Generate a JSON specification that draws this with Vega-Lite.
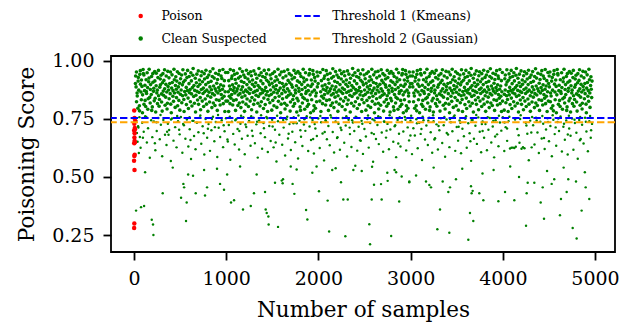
{
"$schema":"https://vega.github.io/schema/vega-lite/v6.json",
"width":504,"height":196,
"autosize":"none",
"padding":{"left":111,"top":56,"right":15,"bottom":72},
"background":"white",
"datasets":{
"poison":[{"x":2,"y":0.786},{"x":5,"y":0.753},{"x":3,"y":0.729},{"x":8,"y":0.71},{"x":1,"y":0.7},{"x":6,"y":0.688},{"x":4,"y":0.669},{"x":9,"y":0.649},{"x":2,"y":0.645},{"x":7,"y":0.595},{"x":3,"y":0.59},{"x":0,"y":0.569},{"x":5,"y":0.53},{"x":3,"y":0.3},{"x":1,"y":0.28},{"x":10,"y":0.705},{"x":6,"y":0.655},{"x":12,"y":0.74}],
"thresholds":[{"t":"Threshold 1 (Kmeans)","y":0.753},{"t":"Threshold 2 (Gaussian)","y":0.735}],
"sparse":[
{"x":25,"y":0.742},{"x":31,"y":0.689},{"x":38,"y":0.651},{"x":44,"y":0.718},{"x":52,"y":0.603},{"x":58,"y":0.757},{"x":63,"y":0.672},{"x":71,"y":0.625},{"x":88,"y":0.733},{"x":105,"y":0.694},{"x":121,"y":0.761},{"x":139,"y":0.648},{"x":152,"y":0.709},{"x":171,"y":0.582},{"x":186,"y":0.744},{"x":198,"y":0.671},{"x":215,"y":0.738},{"x":231,"y":0.615},{"x":246,"y":0.697},{"x":262,"y":0.753},{"x":279,"y":0.662},{"x":291,"y":0.724},{"x":305,"y":0.589},{"x":318,"y":0.745},{"x":336,"y":0.681},{"x":352,"y":0.637},{"x":367,"y":0.729},{"x":381,"y":0.702},{"x":399,"y":0.568},{"x":412,"y":0.751},{"x":428,"y":0.656},{"x":446,"y":0.714},{"x":461,"y":0.627},{"x":477,"y":0.739},{"x":495,"y":0.683},{"x":508,"y":0.758},{"x":524,"y":0.604},{"x":541,"y":0.722},{"x":557,"y":0.664},{"x":573,"y":0.747},{"x":589,"y":0.631},{"x":604,"y":0.705},{"x":618,"y":0.577},{"x":633,"y":0.741},{"x":651,"y":0.676},{"x":667,"y":0.619},{"x":682,"y":0.733},{"x":698,"y":0.692},{"x":713,"y":0.756},{"x":729,"y":0.643},{"x":744,"y":0.718},{"x":762,"y":0.596},{"x":776,"y":0.749},{"x":793,"y":0.668},{"x":808,"y":0.727},{"x":824,"y":0.612},{"x":839,"y":0.701},{"x":856,"y":0.759},{"x":871,"y":0.653},{"x":887,"y":0.736},{"x":903,"y":0.586},{"x":918,"y":0.711},{"x":934,"y":0.672},{"x":951,"y":0.744},{"x":966,"y":0.628},{"x":982,"y":0.696},{"x":997,"y":0.752},{"x":1013,"y":0.661},{"x":1028,"y":0.723},{"x":1044,"y":0.574},{"x":1061,"y":0.737},{"x":1076,"y":0.685},{"x":1092,"y":0.639},{"x":1107,"y":0.748},{"x":1123,"y":0.706},{"x":1139,"y":0.618},{"x":1154,"y":0.729},{"x":1170,"y":0.664},{"x":1186,"y":0.757},{"x":1201,"y":0.597},{"x":1217,"y":0.715},{"x":1232,"y":0.677},{"x":1248,"y":0.741},{"x":1264,"y":0.634},{"x":1279,"y":0.699},{"x":1295,"y":0.755},{"x":1311,"y":0.645},{"x":1326,"y":0.726},{"x":1342,"y":0.583},{"x":1357,"y":0.743},{"x":1373,"y":0.688},{"x":1389,"y":0.621},{"x":1404,"y":0.732},{"x":1420,"y":0.671},{"x":1436,"y":0.758},{"x":1451,"y":0.607},{"x":1467,"y":0.719},{"x":1482,"y":0.654},{"x":1498,"y":0.746},{"x":1514,"y":0.627},{"x":1529,"y":0.703},{"x":1545,"y":0.566},{"x":1561,"y":0.739},{"x":1576,"y":0.681},{"x":1592,"y":0.754},{"x":1607,"y":0.638},{"x":1623,"y":0.712},{"x":1639,"y":0.592},{"x":1654,"y":0.748},{"x":1670,"y":0.665},{"x":1686,"y":0.727},{"x":1701,"y":0.616},{"x":1717,"y":0.694},{"x":1732,"y":0.757},{"x":1748,"y":0.649},{"x":1764,"y":0.731},{"x":1779,"y":0.579},{"x":1795,"y":0.742},{"x":1811,"y":0.673},{"x":1826,"y":0.633},{"x":1842,"y":0.725},{"x":1858,"y":0.698},{"x":1873,"y":0.761},{"x":1889,"y":0.611},{"x":1904,"y":0.717},{"x":1920,"y":0.659},{"x":1936,"y":0.745},{"x":1951,"y":0.601},{"x":1967,"y":0.708},{"x":1983,"y":0.676},{"x":1998,"y":0.751},{"x":2014,"y":0.624},{"x":2030,"y":0.735},{"x":2045,"y":0.687},{"x":2061,"y":0.571},{"x":2077,"y":0.744},{"x":2092,"y":0.662},{"x":2108,"y":0.719},{"x":2123,"y":0.636},{"x":2139,"y":0.756},{"x":2155,"y":0.693},{"x":2170,"y":0.605},{"x":2186,"y":0.738},{"x":2202,"y":0.667},{"x":2217,"y":0.729},{"x":2233,"y":0.617},{"x":2249,"y":0.702},{"x":2264,"y":0.753},{"x":2280,"y":0.647},{"x":2296,"y":0.721},{"x":2311,"y":0.588},{"x":2327,"y":0.746},{"x":2342,"y":0.684},{"x":2358,"y":0.629},{"x":2374,"y":0.734},{"x":2389,"y":0.697},{"x":2405,"y":0.759},{"x":2421,"y":0.613},{"x":2436,"y":0.716},{"x":2452,"y":0.658},{"x":2468,"y":0.741},{"x":2483,"y":0.599},{"x":2499,"y":0.706},{"x":2515,"y":0.674},{"x":2530,"y":0.749},{"x":2546,"y":0.626},{"x":2561,"y":0.732},{"x":2577,"y":0.689},{"x":2593,"y":0.565},{"x":2608,"y":0.743},{"x":2624,"y":0.663},{"x":2640,"y":0.723},{"x":2655,"y":0.641},{"x":2671,"y":0.757},{"x":2687,"y":0.691},{"x":2702,"y":0.608},{"x":2718,"y":0.737},{"x":2733,"y":0.669},{"x":2749,"y":0.728},{"x":2765,"y":0.619},{"x":2780,"y":0.704},{"x":2796,"y":0.754},{"x":2812,"y":0.651},{"x":2827,"y":0.718},{"x":2843,"y":0.585},{"x":2859,"y":0.745},{"x":2874,"y":0.686},{"x":2890,"y":0.631},{"x":2905,"y":0.736},{"x":2921,"y":0.695},{"x":2937,"y":0.758},{"x":2952,"y":0.614},{"x":2968,"y":0.713},{"x":2983,"y":0.657},{"x":2999,"y":0.742},{"x":3015,"y":0.598},{"x":3030,"y":0.709},{"x":3046,"y":0.678},{"x":3062,"y":0.748},{"x":3077,"y":0.623},{"x":3093,"y":0.733},{"x":3109,"y":0.685},{"x":3124,"y":0.573},{"x":3140,"y":0.744},{"x":3156,"y":0.661},{"x":3171,"y":0.721},{"x":3187,"y":0.637},{"x":3202,"y":0.755},{"x":3218,"y":0.692},{"x":3234,"y":0.604},{"x":3249,"y":0.739},{"x":3265,"y":0.666},{"x":3281,"y":0.726},{"x":3296,"y":0.618},{"x":3312,"y":0.701},{"x":3328,"y":0.752},{"x":3343,"y":0.646},{"x":3359,"y":0.722},{"x":3374,"y":0.587},{"x":3390,"y":0.747},{"x":3406,"y":0.682},{"x":3421,"y":0.628},{"x":3437,"y":0.735},{"x":3453,"y":0.696},{"x":3468,"y":0.759},{"x":3484,"y":0.612},{"x":3500,"y":0.715},{"x":3515,"y":0.656},{"x":3531,"y":0.743},{"x":3547,"y":0.602},{"x":3562,"y":0.707},{"x":3578,"y":0.675},{"x":3593,"y":0.75},{"x":3609,"y":0.625},{"x":3625,"y":0.731},{"x":3640,"y":0.688},{"x":3656,"y":0.569},{"x":3672,"y":0.745},{"x":3687,"y":0.664},{"x":3703,"y":0.72},{"x":3719,"y":0.642},{"x":3734,"y":0.756},{"x":3750,"y":0.694},{"x":3765,"y":0.606},{"x":3781,"y":0.738},{"x":3797,"y":0.668},{"x":3812,"y":0.727},{"x":3828,"y":0.615},{"x":3844,"y":0.703},{"x":3859,"y":0.753},{"x":3875,"y":0.648},{"x":3891,"y":0.717},{"x":3906,"y":0.584},{"x":3922,"y":0.744},{"x":3938,"y":0.683},{"x":3953,"y":0.632},{"x":3969,"y":0.734},{"x":3984,"y":0.699},{"x":4000,"y":0.757},{"x":4016,"y":0.611},{"x":4031,"y":0.714},{"x":4047,"y":0.655},{"x":4063,"y":0.74},{"x":4078,"y":0.622},{"x":4094,"y":0.625},{"x":4110,"y":0.626},{"x":4125,"y":0.624},{"x":4141,"y":0.63},{"x":4157,"y":0.706},{"x":4172,"y":0.679},{"x":4188,"y":0.749},{"x":4203,"y":0.621},{"x":4219,"y":0.628},{"x":4235,"y":0.623},{"x":4250,"y":0.733},{"x":4266,"y":0.686},{"x":4282,"y":0.572},{"x":4297,"y":0.742},{"x":4313,"y":0.627},{"x":4329,"y":0.722},{"x":4344,"y":0.639},{"x":4360,"y":0.755},{"x":4376,"y":0.691},{"x":4391,"y":0.603},{"x":4407,"y":0.737},{"x":4422,"y":0.665},{"x":4438,"y":0.729},{"x":4454,"y":0.62},{"x":4469,"y":0.704},{"x":4485,"y":0.752},{"x":4501,"y":0.653},{"x":4516,"y":0.719},{"x":4532,"y":0.589},{"x":4548,"y":0.746},{"x":4563,"y":0.684},{"x":4579,"y":0.634},{"x":4594,"y":0.736},{"x":4610,"y":0.697},{"x":4626,"y":0.76},{"x":4641,"y":0.609},{"x":4657,"y":0.716},{"x":4673,"y":0.66},{"x":4688,"y":0.743},{"x":4704,"y":0.596},{"x":4720,"y":0.708},{"x":4735,"y":0.677},{"x":4751,"y":0.751},{"x":4766,"y":0.617},{"x":4782,"y":0.732},{"x":4798,"y":0.69},{"x":4813,"y":0.578},{"x":4829,"y":0.745},{"x":4845,"y":0.663},{"x":4860,"y":0.724},{"x":4876,"y":0.644},{"x":4892,"y":0.754},{"x":4907,"y":0.695},{"x":4923,"y":0.61},{"x":4938,"y":0.739},{"x":4954,"y":0.668},{"x":4968,"y":0.728},
{"x":47,"y":0.712},{"x":133,"y":0.758},{"x":244,"y":0.735},{"x":287,"y":0.766},{"x":359,"y":0.694},{"x":401,"y":0.747},{"x":468,"y":0.762},{"x":533,"y":0.728},{"x":602,"y":0.757},{"x":645,"y":0.741},{"x":719,"y":0.764},{"x":801,"y":0.707},{"x":845,"y":0.749},{"x":911,"y":0.766},{"x":972,"y":0.722},{"x":1039,"y":0.759},{"x":1098,"y":0.744},{"x":1161,"y":0.763},{"x":1209,"y":0.725},{"x":1271,"y":0.761},{"x":1335,"y":0.737},{"x":1378,"y":0.765},{"x":1445,"y":0.752},{"x":1503,"y":0.717},{"x":1552,"y":0.763},{"x":1618,"y":0.745},{"x":1661,"y":0.759},{"x":1729,"y":0.731},{"x":1783,"y":0.764},{"x":1848,"y":0.748},{"x":1911,"y":0.756},{"x":1959,"y":0.727},{"x":2021,"y":0.762},{"x":2083,"y":0.739},{"x":2131,"y":0.765},{"x":2194,"y":0.753},{"x":2241,"y":0.711},{"x":2303,"y":0.761},{"x":2366,"y":0.744},{"x":2412,"y":0.757},{"x":2476,"y":0.729},{"x":2538,"y":0.764},{"x":2587,"y":0.748},{"x":2649,"y":0.761},{"x":2711,"y":0.738},{"x":2772,"y":0.765},{"x":2833,"y":0.722},{"x":2881,"y":0.757},{"x":2944,"y":0.746},{"x":3006,"y":0.763},{"x":3069,"y":0.731},{"x":3131,"y":0.759},{"x":3192,"y":0.742},{"x":3244,"y":0.765},{"x":3303,"y":0.719},{"x":3366,"y":0.758},{"x":3428,"y":0.749},{"x":3477,"y":0.764},{"x":3539,"y":0.733},{"x":3601,"y":0.761},{"x":3662,"y":0.745},{"x":3712,"y":0.766},{"x":3773,"y":0.727},{"x":3836,"y":0.757},{"x":3897,"y":0.741},{"x":3958,"y":0.763},{"x":4019,"y":0.734},{"x":4071,"y":0.759},{"x":4133,"y":0.747},{"x":4194,"y":0.765},{"x":4256,"y":0.721},{"x":4318,"y":0.758},{"x":4367,"y":0.743},{"x":4429,"y":0.762},{"x":4491,"y":0.736},{"x":4541,"y":0.765},{"x":4602,"y":0.751},{"x":4664,"y":0.729},{"x":4717,"y":0.763},{"x":4778,"y":0.746},{"x":4839,"y":0.758},{"x":4901,"y":0.737},{"x":4947,"y":0.762},
{"x":96,"y":0.668},{"x":226,"y":0.645},{"x":374,"y":0.681},{"x":489,"y":0.703},{"x":612,"y":0.659},{"x":756,"y":0.688},{"x":877,"y":0.714},{"x":1017,"y":0.652},{"x":1142,"y":0.697},{"x":1287,"y":0.676},{"x":1409,"y":0.709},{"x":1536,"y":0.648},{"x":1677,"y":0.686},{"x":1804,"y":0.701},{"x":1943,"y":0.663},{"x":2068,"y":0.693},{"x":2207,"y":0.671},{"x":2339,"y":0.712},{"x":2459,"y":0.655},{"x":2602,"y":0.684},{"x":2739,"y":0.699},{"x":2866,"y":0.644},{"x":2998,"y":0.678},{"x":3117,"y":0.706},{"x":3258,"y":0.661},{"x":3392,"y":0.689},{"x":3521,"y":0.716},{"x":3648,"y":0.653},{"x":3781,"y":0.697},{"x":3917,"y":0.674},{"x":4046,"y":0.708},{"x":4181,"y":0.647},{"x":4309,"y":0.691},{"x":4447,"y":0.667},{"x":4573,"y":0.713},{"x":4705,"y":0.682},{"x":4836,"y":0.658},{"x":4958,"y":0.701},
{"x":22,"y":0.355},{"x":76,"y":0.37},{"x":109,"y":0.375},{"x":192,"y":0.316},{"x":206,"y":0.295},{"x":210,"y":0.25},{"x":311,"y":0.43},{"x":510,"y":0.41},{"x":535,"y":0.47},{"x":543,"y":0.455},{"x":564,"y":0.31},{"x":571,"y":0.39},{"x":587,"y":0.51},{"x":669,"y":0.43},{"x":770,"y":0.42},{"x":792,"y":0.455},{"x":933,"y":0.47},{"x":976,"y":0.445},{"x":1052,"y":0.39},{"x":1085,"y":0.4},{"x":1182,"y":0.36},{"x":1266,"y":0.375},{"x":1301,"y":0.43},{"x":1428,"y":0.36},{"x":1439,"y":0.345},{"x":1457,"y":0.33},{"x":1460,"y":0.295},{"x":1562,"y":0.285},{"x":1421,"y":0.435},{"x":1529,"y":0.475},{"x":1720,"y":0.47},{"x":1616,"y":0.49},{"x":1602,"y":0.484},{"x":1612,"y":0.473},{"x":1739,"y":0.427},{"x":1764,"y":0.532},{"x":1866,"y":0.358},{"x":1880,"y":0.317},{"x":1934,"y":0.518},{"x":2006,"y":0.438},{"x":2100,"y":0.398},{"x":2116,"y":0.265},{"x":2245,"y":0.477},{"x":2270,"y":0.403},{"x":2318,"y":0.403},{"x":2292,"y":0.245},{"x":2552,"y":0.296},{"x":2560,"y":0.21},{"x":2578,"y":0.403},{"x":2603,"y":0.466},{"x":2679,"y":0.469},{"x":2686,"y":0.403},{"x":2751,"y":0.483},{"x":2789,"y":0.246},{"x":2876,"y":0.394},{"x":2985,"y":0.477},{"x":2903,"y":0.502},{"x":3059,"y":0.506},{"x":2379,"y":0.53},{"x":2470,"y":0.525},{"x":2187,"y":0.537},{"x":2582,"y":0.544},{"x":2747,"y":0.518},{"x":2843,"y":0.52},{"x":2826,"y":0.53},{"x":2986,"y":0.48},{"x":3167,"y":0.48},{"x":3203,"y":0.465},{"x":3221,"y":0.455},{"x":3319,"y":0.36},{"x":3290,"y":0.275},{"x":3420,"y":0.26},{"x":3348,"y":0.48},{"x":3427,"y":0.455},{"x":3409,"y":0.435},{"x":3492,"y":0.49},{"x":3626,"y":0.23},{"x":3644,"y":0.345},{"x":3680,"y":0.31},{"x":3655,"y":0.46},{"x":3673,"y":0.44},{"x":3662,"y":0.43},{"x":3745,"y":0.43},{"x":3789,"y":0.4},{"x":3952,"y":0.395},{"x":4024,"y":0.435},{"x":4125,"y":0.4},{"x":4176,"y":0.5},{"x":4252,"y":0.29},{"x":4259,"y":0.43},{"x":4270,"y":0.475},{"x":4342,"y":0.475},{"x":4411,"y":0.39},{"x":4447,"y":0.32},{"x":4433,"y":0.455},{"x":4558,"y":0.49},{"x":4530,"y":0.47},{"x":4631,"y":0.405},{"x":4620,"y":0.335},{"x":4710,"y":0.49},{"x":4693,"y":0.435},{"x":4758,"y":0.28},{"x":4801,"y":0.235},{"x":4855,"y":0.355},{"x":4899,"y":0.455},{"x":4938,"y":0.405},{"x":4794,"y":0.48},
{"x":120,"y":0.52},{"x":420,"y":0.54},{"x":760,"y":0.53},{"x":1150,"y":0.545},{"x":1330,"y":0.51},{"x":1980,"y":0.545},{"x":2150,"y":0.53},{"x":3250,"y":0.54},{"x":3560,"y":0.535},{"x":3900,"y":0.53},{"x":4080,"y":0.545},{"x":4480,"y":0.525},{"x":4660,"y":0.54},{"x":4890,"y":0.52},{"x":1700,"y":0.545},{"x":640,"y":0.505},{"x":900,"y":0.535},{"x":3780,"y":0.515},{"x":2400,"y":0.548},{"x":1010,"y":0.51}
],
"band":[
{"x":15,"y":0.902},{"x":17,"y":0.934},{"x":22,"y":0.887},{"x":26,"y":0.951},{"x":27,"y":0.823},{"x":33,"y":0.861},{"x":35,"y":0.848},{"x":41,"y":0.795},{"x":44,"y":0.912},{"x":46,"y":0.928},
{"x":51,"y":0.873},{"x":58,"y":0.806},{"x":59,"y":0.784},{"x":63,"y":0.941},{"x":68,"y":0.957},{"x":70,"y":0.899},{"x":75,"y":0.865},{"x":79,"y":0.832},{"x":80,"y":0.917},{"x":86,"y":0.889},
{"x":91,"y":0.776},{"x":93,"y":0.853},{"x":98,"y":0.962},{"x":101,"y":0.945},{"x":107,"y":0.938},{"x":108,"y":0.812},{"x":114,"y":0.871},{"x":118,"y":0.894},{"x":120,"y":0.829},{"x":126,"y":0.803},
{"x":131,"y":0.918},{"x":133,"y":0.867},{"x":136,"y":0.859},{"x":142,"y":0.948},{"x":147,"y":0.884},{"x":149,"y":0.791},{"x":153,"y":0.836},{"x":159,"y":0.909},{"x":162,"y":0.925},{"x":164,"y":0.963},
{"x":170,"y":0.842},{"x":175,"y":0.818},{"x":177,"y":0.876},{"x":180,"y":0.897},{"x":187,"y":0.854},{"x":190,"y":0.932},{"x":192,"y":0.786},{"x":198,"y":0.801},{"x":203,"y":0.944},{"x":205,"y":0.907},
{"x":211,"y":0.868},{"x":214,"y":0.881},{"x":219,"y":0.827},{"x":224,"y":0.953},{"x":226,"y":0.913},{"x":229,"y":0.838},{"x":235,"y":0.779},{"x":240,"y":0.892},{"x":241,"y":0.946},{"x":247,"y":0.861},
{"x":252,"y":0.873},{"x":254,"y":0.815},{"x":259,"y":0.927},{"x":265,"y":0.958},{"x":266,"y":0.849},{"x":272,"y":0.804},{"x":275,"y":0.833},{"x":279,"y":0.886},{"x":284,"y":0.921},{"x":286,"y":0.896},
{"x":293,"y":0.937},{"x":298,"y":0.857},{"x":299,"y":0.822},{"x":305,"y":0.783},{"x":308,"y":0.905},{"x":313,"y":0.944},{"x":317,"y":0.869},{"x":320,"y":0.851},{"x":324,"y":0.915},{"x":331,"y":0.961},
{"x":332,"y":0.879},{"x":337,"y":0.808},{"x":343,"y":0.843},{"x":345,"y":0.898},{"x":349,"y":0.934},{"x":355,"y":0.865},{"x":358,"y":0.792},{"x":362,"y":0.817},{"x":366,"y":0.954},{"x":369,"y":0.889},
{"x":375,"y":0.874},{"x":379,"y":0.926},{"x":381,"y":0.836},{"x":387,"y":0.902},{"x":392,"y":0.858},{"x":395,"y":0.951},{"x":398,"y":0.813},{"x":404,"y":0.776},{"x":408,"y":0.882},{"x":412,"y":0.939},
{"x":415,"y":0.906},{"x":421,"y":0.847},{"x":423,"y":0.871},{"x":428,"y":0.825},{"x":433,"y":0.963},{"x":437,"y":0.918},{"x":439,"y":0.861},{"x":446,"y":0.799},{"x":449,"y":0.893},{"x":453,"y":0.931},
{"x":458,"y":0.877},{"x":460,"y":0.841},{"x":464,"y":0.912},{"x":470,"y":0.952},{"x":473,"y":0.806},{"x":477,"y":0.864},{"x":481,"y":0.887},{"x":486,"y":0.829},{"x":489,"y":0.945},{"x":494,"y":0.903},
{"x":497,"y":0.787},{"x":503,"y":0.855},{"x":505,"y":0.922},{"x":511,"y":0.874},{"x":516,"y":0.938},{"x":518,"y":0.819},{"x":524,"y":0.896},{"x":527,"y":0.849},{"x":530,"y":0.961},{"x":536,"y":0.908},
{"x":540,"y":0.833},{"x":543,"y":0.781},{"x":549,"y":0.867},{"x":553,"y":0.916},{"x":556,"y":0.943},{"x":561,"y":0.853},{"x":566,"y":0.885},{"x":568,"y":0.811},{"x":574,"y":0.927},{"x":579,"y":0.871},
{"x":581,"y":0.958},{"x":586,"y":0.839},{"x":590,"y":0.794},{"x":596,"y":0.901},{"x":598,"y":0.932},{"x":603,"y":0.862},{"x":608,"y":0.876},{"x":611,"y":0.823},{"x":616,"y":0.948},{"x":622,"y":0.913},
{"x":624,"y":0.857},{"x":628,"y":0.805},{"x":633,"y":0.884},{"x":638,"y":0.937},{"x":641,"y":0.966},{"x":647,"y":0.846},{"x":650,"y":0.893},{"x":655,"y":0.817},{"x":658,"y":0.872},{"x":664,"y":0.924},
{"x":667,"y":0.779},{"x":671,"y":0.851},{"x":676,"y":0.905},{"x":681,"y":0.942},{"x":683,"y":0.868},{"x":689,"y":0.831},{"x":693,"y":0.889},{"x":697,"y":0.956},{"x":700,"y":0.812},{"x":706,"y":0.863},
{"x":709,"y":0.917},{"x":714,"y":0.898},{"x":718,"y":0.841},{"x":722,"y":0.789},{"x":727,"y":0.935},{"x":730,"y":0.876},{"x":735,"y":0.952},{"x":740,"y":0.826},{"x":742,"y":0.909},{"x":748,"y":0.859},
{"x":752,"y":0.882},{"x":755,"y":0.803},{"x":761,"y":0.944},{"x":765,"y":0.921},{"x":767,"y":0.866},{"x":772,"y":0.835},{"x":778,"y":0.897},{"x":780,"y":0.959},{"x":786,"y":0.813},{"x":789,"y":0.873},
{"x":794,"y":0.928},{"x":799,"y":0.849},{"x":801,"y":0.782},{"x":806,"y":0.906},{"x":811,"y":0.938},{"x":814,"y":0.864},{"x":819,"y":0.822},{"x":823,"y":0.887},{"x":826,"y":0.953},{"x":832,"y":0.843},
{"x":835,"y":0.911},{"x":839,"y":0.875},{"x":844,"y":0.798},{"x":849,"y":0.932},{"x":851,"y":0.858},{"x":856,"y":0.965},{"x":860,"y":0.818},{"x":863,"y":0.891},{"x":869,"y":0.925},{"x":872,"y":0.852},
{"x":878,"y":0.807},{"x":880,"y":0.879},{"x":885,"y":0.946},{"x":890,"y":0.869},{"x":893,"y":0.832},{"x":897,"y":0.903},{"x":903,"y":0.786},{"x":906,"y":0.919},{"x":910,"y":0.861},{"x":915,"y":0.941},
{"x":918,"y":0.884},{"x":923,"y":0.829},{"x":927,"y":0.957},{"x":931,"y":0.872},{"x":934,"y":0.809},{"x":940,"y":0.896},{"x":944,"y":0.934},{"x":946,"y":0.854},{"x":952,"y":0.923},{"x":956,"y":0.838},
{"x":959,"y":0.877},{"x":964,"y":0.962},{"x":968,"y":0.815},{"x":971,"y":0.891},{"x":977,"y":0.847},{"x":980,"y":0.914},{"x":985,"y":0.781},{"x":988,"y":0.866},{"x":993,"y":0.949},{"x":997,"y":0.826},
{"x":1015,"y":0.826},{"x":1017,"y":0.949},{"x":1022,"y":0.866},{"x":1026,"y":0.781},{"x":1027,"y":0.914},{"x":1033,"y":0.847},{"x":1035,"y":0.891},{"x":1041,"y":0.815},{"x":1044,"y":0.962},{"x":1046,"y":0.877},
{"x":1051,"y":0.838},{"x":1058,"y":0.923},{"x":1059,"y":0.854},{"x":1063,"y":0.934},{"x":1068,"y":0.896},{"x":1070,"y":0.809},{"x":1075,"y":0.872},{"x":1079,"y":0.957},{"x":1080,"y":0.829},{"x":1086,"y":0.884},
{"x":1091,"y":0.941},{"x":1093,"y":0.861},{"x":1098,"y":0.919},{"x":1101,"y":0.786},{"x":1107,"y":0.903},{"x":1108,"y":0.832},{"x":1114,"y":0.869},{"x":1118,"y":0.946},{"x":1120,"y":0.879},{"x":1126,"y":0.807},
{"x":1131,"y":0.852},{"x":1133,"y":0.925},{"x":1136,"y":0.891},{"x":1142,"y":0.818},{"x":1147,"y":0.965},{"x":1149,"y":0.858},{"x":1153,"y":0.932},{"x":1159,"y":0.798},{"x":1162,"y":0.875},{"x":1164,"y":0.911},
{"x":1170,"y":0.843},{"x":1175,"y":0.953},{"x":1177,"y":0.887},{"x":1180,"y":0.822},{"x":1187,"y":0.864},{"x":1190,"y":0.938},{"x":1192,"y":0.906},{"x":1198,"y":0.782},{"x":1203,"y":0.849},{"x":1205,"y":0.928},
{"x":1211,"y":0.873},{"x":1214,"y":0.813},{"x":1219,"y":0.959},{"x":1224,"y":0.897},{"x":1226,"y":0.835},{"x":1229,"y":0.866},{"x":1235,"y":0.921},{"x":1240,"y":0.944},{"x":1241,"y":0.803},{"x":1247,"y":0.882},
{"x":1252,"y":0.859},{"x":1254,"y":0.909},{"x":1259,"y":0.826},{"x":1265,"y":0.952},{"x":1266,"y":0.876},{"x":1272,"y":0.935},{"x":1275,"y":0.789},{"x":1279,"y":0.841},{"x":1284,"y":0.898},{"x":1286,"y":0.917},
{"x":1293,"y":0.863},{"x":1298,"y":0.812},{"x":1299,"y":0.956},{"x":1305,"y":0.889},{"x":1308,"y":0.831},{"x":1313,"y":0.868},{"x":1317,"y":0.942},{"x":1320,"y":0.905},{"x":1324,"y":0.851},{"x":1331,"y":0.779},
{"x":1332,"y":0.924},{"x":1337,"y":0.872},{"x":1343,"y":0.817},{"x":1345,"y":0.893},{"x":1349,"y":0.846},{"x":1355,"y":0.966},{"x":1358,"y":0.937},{"x":1362,"y":0.884},{"x":1366,"y":0.805},{"x":1369,"y":0.857},
{"x":1375,"y":0.913},{"x":1379,"y":0.948},{"x":1381,"y":0.823},{"x":1387,"y":0.876},{"x":1392,"y":0.862},{"x":1395,"y":0.932},{"x":1398,"y":0.901},{"x":1404,"y":0.794},{"x":1408,"y":0.839},{"x":1412,"y":0.958},
{"x":1415,"y":0.871},{"x":1421,"y":0.927},{"x":1423,"y":0.811},{"x":1428,"y":0.885},{"x":1433,"y":0.853},{"x":1437,"y":0.943},{"x":1439,"y":0.916},{"x":1446,"y":0.867},{"x":1449,"y":0.781},{"x":1453,"y":0.833},
{"x":1458,"y":0.908},{"x":1460,"y":0.961},{"x":1464,"y":0.849},{"x":1470,"y":0.896},{"x":1473,"y":0.819},{"x":1477,"y":0.938},{"x":1481,"y":0.874},{"x":1486,"y":0.922},{"x":1489,"y":0.855},{"x":1494,"y":0.787},
{"x":1497,"y":0.903},{"x":1503,"y":0.945},{"x":1505,"y":0.829},{"x":1511,"y":0.887},{"x":1516,"y":0.864},{"x":1518,"y":0.806},{"x":1524,"y":0.952},{"x":1527,"y":0.912},{"x":1530,"y":0.841},{"x":1536,"y":0.877},
{"x":1540,"y":0.931},{"x":1543,"y":0.893},{"x":1549,"y":0.799},{"x":1553,"y":0.861},{"x":1556,"y":0.918},{"x":1561,"y":0.963},{"x":1566,"y":0.825},{"x":1568,"y":0.871},{"x":1574,"y":0.847},{"x":1579,"y":0.906},
{"x":1581,"y":0.939},{"x":1586,"y":0.882},{"x":1590,"y":0.776},{"x":1596,"y":0.813},{"x":1598,"y":0.951},{"x":1603,"y":0.858},{"x":1608,"y":0.902},{"x":1611,"y":0.836},{"x":1616,"y":0.926},{"x":1622,"y":0.874},
{"x":1624,"y":0.889},{"x":1628,"y":0.954},{"x":1633,"y":0.817},{"x":1638,"y":0.792},{"x":1641,"y":0.865},{"x":1647,"y":0.934},{"x":1650,"y":0.898},{"x":1655,"y":0.843},{"x":1658,"y":0.808},{"x":1664,"y":0.879},
{"x":1667,"y":0.961},{"x":1671,"y":0.915},{"x":1676,"y":0.851},{"x":1681,"y":0.869},{"x":1683,"y":0.944},{"x":1689,"y":0.905},{"x":1693,"y":0.783},{"x":1697,"y":0.822},{"x":1700,"y":0.857},{"x":1706,"y":0.937},
{"x":1709,"y":0.896},{"x":1714,"y":0.921},{"x":1718,"y":0.886},{"x":1722,"y":0.833},{"x":1727,"y":0.804},{"x":1730,"y":0.849},{"x":1735,"y":0.958},{"x":1740,"y":0.927},{"x":1742,"y":0.815},{"x":1748,"y":0.873},
{"x":1752,"y":0.861},{"x":1755,"y":0.946},{"x":1761,"y":0.892},{"x":1765,"y":0.779},{"x":1767,"y":0.838},{"x":1772,"y":0.913},{"x":1778,"y":0.953},{"x":1780,"y":0.827},{"x":1786,"y":0.881},{"x":1789,"y":0.868},
{"x":1794,"y":0.907},{"x":1799,"y":0.944},{"x":1801,"y":0.801},{"x":1806,"y":0.786},{"x":1811,"y":0.932},{"x":1814,"y":0.854},{"x":1819,"y":0.897},{"x":1823,"y":0.876},{"x":1826,"y":0.818},{"x":1832,"y":0.842},
{"x":1835,"y":0.963},{"x":1839,"y":0.925},{"x":1844,"y":0.909},{"x":1849,"y":0.836},{"x":1851,"y":0.791},{"x":1856,"y":0.884},{"x":1860,"y":0.948},{"x":1863,"y":0.859},{"x":1869,"y":0.867},{"x":1872,"y":0.918},
{"x":1878,"y":0.803},{"x":1880,"y":0.829},{"x":1885,"y":0.894},{"x":1890,"y":0.871},{"x":1893,"y":0.812},{"x":1897,"y":0.938},{"x":1903,"y":0.945},{"x":1906,"y":0.962},{"x":1910,"y":0.853},{"x":1915,"y":0.776},
{"x":1918,"y":0.889},{"x":1923,"y":0.917},{"x":1927,"y":0.832},{"x":1931,"y":0.865},{"x":1934,"y":0.899},{"x":1940,"y":0.957},{"x":1944,"y":0.941},{"x":1946,"y":0.784},{"x":1952,"y":0.806},{"x":1956,"y":0.873},
{"x":1959,"y":0.928},{"x":1964,"y":0.912},{"x":1968,"y":0.795},{"x":1971,"y":0.848},{"x":1977,"y":0.861},{"x":1980,"y":0.823},{"x":1985,"y":0.951},{"x":1988,"y":0.887},{"x":1993,"y":0.934},{"x":1997,"y":0.902},
{"x":2997,"y":0.902},{"x":2995,"y":0.934},{"x":2990,"y":0.887},{"x":2986,"y":0.951},{"x":2985,"y":0.823},{"x":2979,"y":0.861},{"x":2977,"y":0.848},{"x":2971,"y":0.795},{"x":2968,"y":0.912},{"x":2966,"y":0.928},
{"x":2961,"y":0.873},{"x":2954,"y":0.806},{"x":2953,"y":0.784},{"x":2949,"y":0.941},{"x":2944,"y":0.957},{"x":2942,"y":0.899},{"x":2937,"y":0.865},{"x":2933,"y":0.832},{"x":2932,"y":0.917},{"x":2926,"y":0.889},
{"x":2921,"y":0.776},{"x":2919,"y":0.853},{"x":2914,"y":0.962},{"x":2911,"y":0.945},{"x":2905,"y":0.938},{"x":2904,"y":0.812},{"x":2898,"y":0.871},{"x":2894,"y":0.894},{"x":2892,"y":0.829},{"x":2886,"y":0.803},
{"x":2881,"y":0.918},{"x":2879,"y":0.867},{"x":2876,"y":0.859},{"x":2870,"y":0.948},{"x":2865,"y":0.884},{"x":2863,"y":0.791},{"x":2859,"y":0.836},{"x":2853,"y":0.909},{"x":2850,"y":0.925},{"x":2848,"y":0.963},
{"x":2842,"y":0.842},{"x":2837,"y":0.818},{"x":2835,"y":0.876},{"x":2832,"y":0.897},{"x":2825,"y":0.854},{"x":2822,"y":0.932},{"x":2820,"y":0.786},{"x":2814,"y":0.801},{"x":2809,"y":0.944},{"x":2807,"y":0.907},
{"x":2801,"y":0.868},{"x":2798,"y":0.881},{"x":2793,"y":0.827},{"x":2788,"y":0.953},{"x":2786,"y":0.913},{"x":2783,"y":0.838},{"x":2777,"y":0.779},{"x":2772,"y":0.892},{"x":2771,"y":0.946},{"x":2765,"y":0.861},
{"x":2760,"y":0.873},{"x":2758,"y":0.815},{"x":2753,"y":0.927},{"x":2747,"y":0.958},{"x":2746,"y":0.849},{"x":2740,"y":0.804},{"x":2737,"y":0.833},{"x":2733,"y":0.886},{"x":2728,"y":0.921},{"x":2726,"y":0.896},
{"x":2719,"y":0.937},{"x":2714,"y":0.857},{"x":2713,"y":0.822},{"x":2707,"y":0.783},{"x":2704,"y":0.905},{"x":2699,"y":0.944},{"x":2695,"y":0.869},{"x":2692,"y":0.851},{"x":2688,"y":0.915},{"x":2681,"y":0.961},
{"x":2680,"y":0.879},{"x":2675,"y":0.808},{"x":2669,"y":0.843},{"x":2667,"y":0.898},{"x":2663,"y":0.934},{"x":2657,"y":0.865},{"x":2654,"y":0.792},{"x":2650,"y":0.817},{"x":2646,"y":0.954},{"x":2643,"y":0.889},
{"x":2637,"y":0.874},{"x":2633,"y":0.926},{"x":2631,"y":0.836},{"x":2625,"y":0.902},{"x":2620,"y":0.858},{"x":2617,"y":0.951},{"x":2614,"y":0.813},{"x":2608,"y":0.776},{"x":2604,"y":0.882},{"x":2600,"y":0.939},
{"x":2597,"y":0.906},{"x":2591,"y":0.847},{"x":2589,"y":0.871},{"x":2584,"y":0.825},{"x":2579,"y":0.963},{"x":2575,"y":0.918},{"x":2573,"y":0.861},{"x":2566,"y":0.799},{"x":2563,"y":0.893},{"x":2559,"y":0.931},
{"x":2554,"y":0.877},{"x":2552,"y":0.841},{"x":2548,"y":0.912},{"x":2542,"y":0.952},{"x":2539,"y":0.806},{"x":2535,"y":0.864},{"x":2531,"y":0.887},{"x":2526,"y":0.829},{"x":2523,"y":0.945},{"x":2518,"y":0.903},
{"x":2515,"y":0.787},{"x":2509,"y":0.855},{"x":2507,"y":0.922},{"x":2501,"y":0.874},{"x":2496,"y":0.938},{"x":2494,"y":0.819},{"x":2488,"y":0.896},{"x":2485,"y":0.849},{"x":2482,"y":0.961},{"x":2476,"y":0.908},
{"x":2472,"y":0.833},{"x":2469,"y":0.781},{"x":2463,"y":0.867},{"x":2459,"y":0.916},{"x":2456,"y":0.943},{"x":2451,"y":0.853},{"x":2446,"y":0.885},{"x":2444,"y":0.811},{"x":2438,"y":0.927},{"x":2433,"y":0.871},
{"x":2431,"y":0.958},{"x":2426,"y":0.839},{"x":2422,"y":0.794},{"x":2416,"y":0.901},{"x":2414,"y":0.932},{"x":2409,"y":0.862},{"x":2404,"y":0.876},{"x":2401,"y":0.823},{"x":2396,"y":0.948},{"x":2390,"y":0.913},
{"x":2388,"y":0.857},{"x":2384,"y":0.805},{"x":2379,"y":0.884},{"x":2374,"y":0.937},{"x":2371,"y":0.966},{"x":2365,"y":0.846},{"x":2362,"y":0.893},{"x":2357,"y":0.817},{"x":2354,"y":0.872},{"x":2348,"y":0.924},
{"x":2345,"y":0.779},{"x":2341,"y":0.851},{"x":2336,"y":0.905},{"x":2331,"y":0.942},{"x":2329,"y":0.868},{"x":2323,"y":0.831},{"x":2319,"y":0.889},{"x":2315,"y":0.956},{"x":2312,"y":0.812},{"x":2306,"y":0.863},
{"x":2303,"y":0.917},{"x":2298,"y":0.898},{"x":2294,"y":0.841},{"x":2290,"y":0.789},{"x":2285,"y":0.935},{"x":2282,"y":0.876},{"x":2277,"y":0.952},{"x":2272,"y":0.826},{"x":2270,"y":0.909},{"x":2264,"y":0.859},
{"x":2260,"y":0.882},{"x":2257,"y":0.803},{"x":2251,"y":0.944},{"x":2247,"y":0.921},{"x":2245,"y":0.866},{"x":2240,"y":0.835},{"x":2234,"y":0.897},{"x":2232,"y":0.959},{"x":2226,"y":0.813},{"x":2223,"y":0.873},
{"x":2218,"y":0.928},{"x":2213,"y":0.849},{"x":2211,"y":0.782},{"x":2206,"y":0.906},{"x":2201,"y":0.938},{"x":2198,"y":0.864},{"x":2193,"y":0.822},{"x":2189,"y":0.887},{"x":2186,"y":0.953},{"x":2180,"y":0.843},
{"x":2177,"y":0.911},{"x":2173,"y":0.875},{"x":2168,"y":0.798},{"x":2163,"y":0.932},{"x":2161,"y":0.858},{"x":2156,"y":0.965},{"x":2152,"y":0.818},{"x":2149,"y":0.891},{"x":2143,"y":0.925},{"x":2140,"y":0.852},
{"x":2134,"y":0.807},{"x":2132,"y":0.879},{"x":2127,"y":0.946},{"x":2122,"y":0.869},{"x":2119,"y":0.832},{"x":2115,"y":0.903},{"x":2109,"y":0.786},{"x":2106,"y":0.919},{"x":2102,"y":0.861},{"x":2097,"y":0.941},
{"x":2094,"y":0.884},{"x":2089,"y":0.829},{"x":2085,"y":0.957},{"x":2081,"y":0.872},{"x":2078,"y":0.809},{"x":2072,"y":0.896},{"x":2068,"y":0.934},{"x":2066,"y":0.854},{"x":2060,"y":0.923},{"x":2056,"y":0.838},
{"x":2053,"y":0.877},{"x":2048,"y":0.962},{"x":2044,"y":0.815},{"x":2041,"y":0.891},{"x":2035,"y":0.847},{"x":2032,"y":0.914},{"x":2027,"y":0.781},{"x":2024,"y":0.866},{"x":2019,"y":0.949},{"x":2015,"y":0.826},
{"x":3997,"y":0.826},{"x":3995,"y":0.949},{"x":3990,"y":0.866},{"x":3986,"y":0.781},{"x":3985,"y":0.914},{"x":3979,"y":0.847},{"x":3977,"y":0.891},{"x":3971,"y":0.815},{"x":3968,"y":0.962},{"x":3966,"y":0.877},
{"x":3961,"y":0.838},{"x":3954,"y":0.923},{"x":3953,"y":0.854},{"x":3949,"y":0.934},{"x":3944,"y":0.896},{"x":3942,"y":0.809},{"x":3937,"y":0.872},{"x":3933,"y":0.957},{"x":3932,"y":0.829},{"x":3926,"y":0.884},
{"x":3921,"y":0.941},{"x":3919,"y":0.861},{"x":3914,"y":0.919},{"x":3911,"y":0.786},{"x":3905,"y":0.903},{"x":3904,"y":0.832},{"x":3898,"y":0.869},{"x":3894,"y":0.946},{"x":3892,"y":0.879},{"x":3886,"y":0.807},
{"x":3881,"y":0.852},{"x":3879,"y":0.925},{"x":3876,"y":0.891},{"x":3870,"y":0.818},{"x":3865,"y":0.965},{"x":3863,"y":0.858},{"x":3859,"y":0.932},{"x":3853,"y":0.798},{"x":3850,"y":0.875},{"x":3848,"y":0.911},
{"x":3842,"y":0.843},{"x":3837,"y":0.953},{"x":3835,"y":0.887},{"x":3832,"y":0.822},{"x":3825,"y":0.864},{"x":3822,"y":0.938},{"x":3820,"y":0.906},{"x":3814,"y":0.782},{"x":3809,"y":0.849},{"x":3807,"y":0.928},
{"x":3801,"y":0.873},{"x":3798,"y":0.813},{"x":3793,"y":0.959},{"x":3788,"y":0.897},{"x":3786,"y":0.835},{"x":3783,"y":0.866},{"x":3777,"y":0.921},{"x":3772,"y":0.944},{"x":3771,"y":0.803},{"x":3765,"y":0.882},
{"x":3760,"y":0.859},{"x":3758,"y":0.909},{"x":3753,"y":0.826},{"x":3747,"y":0.952},{"x":3746,"y":0.876},{"x":3740,"y":0.935},{"x":3737,"y":0.789},{"x":3733,"y":0.841},{"x":3728,"y":0.898},{"x":3726,"y":0.917},
{"x":3719,"y":0.863},{"x":3714,"y":0.812},{"x":3713,"y":0.956},{"x":3707,"y":0.889},{"x":3704,"y":0.831},{"x":3699,"y":0.868},{"x":3695,"y":0.942},{"x":3692,"y":0.905},{"x":3688,"y":0.851},{"x":3681,"y":0.779},
{"x":3680,"y":0.924},{"x":3675,"y":0.872},{"x":3669,"y":0.817},{"x":3667,"y":0.893},{"x":3663,"y":0.846},{"x":3657,"y":0.966},{"x":3654,"y":0.937},{"x":3650,"y":0.884},{"x":3646,"y":0.805},{"x":3643,"y":0.857},
{"x":3637,"y":0.913},{"x":3633,"y":0.948},{"x":3631,"y":0.823},{"x":3625,"y":0.876},{"x":3620,"y":0.862},{"x":3617,"y":0.932},{"x":3614,"y":0.901},{"x":3608,"y":0.794},{"x":3604,"y":0.839},{"x":3600,"y":0.958},
{"x":3597,"y":0.871},{"x":3591,"y":0.927},{"x":3589,"y":0.811},{"x":3584,"y":0.885},{"x":3579,"y":0.853},{"x":3575,"y":0.943},{"x":3573,"y":0.916},{"x":3566,"y":0.867},{"x":3563,"y":0.781},{"x":3559,"y":0.833},
{"x":3554,"y":0.908},{"x":3552,"y":0.961},{"x":3548,"y":0.849},{"x":3542,"y":0.896},{"x":3539,"y":0.819},{"x":3535,"y":0.938},{"x":3531,"y":0.874},{"x":3526,"y":0.922},{"x":3523,"y":0.855},{"x":3518,"y":0.787},
{"x":3515,"y":0.903},{"x":3509,"y":0.945},{"x":3507,"y":0.829},{"x":3501,"y":0.887},{"x":3496,"y":0.864},{"x":3494,"y":0.806},{"x":3488,"y":0.952},{"x":3485,"y":0.912},{"x":3482,"y":0.841},{"x":3476,"y":0.877},
{"x":3472,"y":0.931},{"x":3469,"y":0.893},{"x":3463,"y":0.799},{"x":3459,"y":0.861},{"x":3456,"y":0.918},{"x":3451,"y":0.963},{"x":3446,"y":0.825},{"x":3444,"y":0.871},{"x":3438,"y":0.847},{"x":3433,"y":0.906},
{"x":3431,"y":0.939},{"x":3426,"y":0.882},{"x":3422,"y":0.776},{"x":3416,"y":0.813},{"x":3414,"y":0.951},{"x":3409,"y":0.858},{"x":3404,"y":0.902},{"x":3401,"y":0.836},{"x":3396,"y":0.926},{"x":3390,"y":0.874},
{"x":3388,"y":0.889},{"x":3384,"y":0.954},{"x":3379,"y":0.817},{"x":3374,"y":0.792},{"x":3371,"y":0.865},{"x":3365,"y":0.934},{"x":3362,"y":0.898},{"x":3357,"y":0.843},{"x":3354,"y":0.808},{"x":3348,"y":0.879},
{"x":3345,"y":0.961},{"x":3341,"y":0.915},{"x":3336,"y":0.851},{"x":3331,"y":0.869},{"x":3329,"y":0.944},{"x":3323,"y":0.905},{"x":3319,"y":0.783},{"x":3315,"y":0.822},{"x":3312,"y":0.857},{"x":3306,"y":0.937},
{"x":3303,"y":0.896},{"x":3298,"y":0.921},{"x":3294,"y":0.886},{"x":3290,"y":0.833},{"x":3285,"y":0.804},{"x":3282,"y":0.849},{"x":3277,"y":0.958},{"x":3272,"y":0.927},{"x":3270,"y":0.815},{"x":3264,"y":0.873},
{"x":3260,"y":0.861},{"x":3257,"y":0.946},{"x":3251,"y":0.892},{"x":3247,"y":0.779},{"x":3245,"y":0.838},{"x":3240,"y":0.913},{"x":3234,"y":0.953},{"x":3232,"y":0.827},{"x":3226,"y":0.881},{"x":3223,"y":0.868},
{"x":3218,"y":0.907},{"x":3213,"y":0.944},{"x":3211,"y":0.801},{"x":3206,"y":0.786},{"x":3201,"y":0.932},{"x":3198,"y":0.854},{"x":3193,"y":0.897},{"x":3189,"y":0.876},{"x":3186,"y":0.818},{"x":3180,"y":0.842},
{"x":3177,"y":0.963},{"x":3173,"y":0.925},{"x":3168,"y":0.909},{"x":3163,"y":0.836},{"x":3161,"y":0.791},{"x":3156,"y":0.884},{"x":3152,"y":0.948},{"x":3149,"y":0.859},{"x":3143,"y":0.867},{"x":3140,"y":0.918},
{"x":3134,"y":0.803},{"x":3132,"y":0.829},{"x":3127,"y":0.894},{"x":3122,"y":0.871},{"x":3119,"y":0.812},{"x":3115,"y":0.938},{"x":3109,"y":0.945},{"x":3106,"y":0.962},{"x":3102,"y":0.853},{"x":3097,"y":0.776},
{"x":3094,"y":0.889},{"x":3089,"y":0.917},{"x":3085,"y":0.832},{"x":3081,"y":0.865},{"x":3078,"y":0.899},{"x":3072,"y":0.957},{"x":3068,"y":0.941},{"x":3066,"y":0.784},{"x":3060,"y":0.806},{"x":3056,"y":0.873},
{"x":3053,"y":0.928},{"x":3048,"y":0.912},{"x":3044,"y":0.795},{"x":3041,"y":0.848},{"x":3035,"y":0.861},{"x":3032,"y":0.823},{"x":3027,"y":0.951},{"x":3024,"y":0.887},{"x":3019,"y":0.934},{"x":3015,"y":0.902},
{"x":4015,"y":0.787},{"x":4017,"y":0.855},{"x":4022,"y":0.922},{"x":4026,"y":0.874},{"x":4027,"y":0.938},{"x":4033,"y":0.819},{"x":4035,"y":0.896},{"x":4041,"y":0.849},{"x":4044,"y":0.961},{"x":4046,"y":0.908},
{"x":4051,"y":0.833},{"x":4058,"y":0.781},{"x":4059,"y":0.867},{"x":4063,"y":0.916},{"x":4068,"y":0.943},{"x":4070,"y":0.853},{"x":4075,"y":0.885},{"x":4079,"y":0.811},{"x":4080,"y":0.927},{"x":4086,"y":0.871},
{"x":4091,"y":0.958},{"x":4093,"y":0.839},{"x":4098,"y":0.794},{"x":4101,"y":0.901},{"x":4107,"y":0.932},{"x":4108,"y":0.862},{"x":4114,"y":0.876},{"x":4118,"y":0.823},{"x":4120,"y":0.948},{"x":4126,"y":0.913},
{"x":4131,"y":0.857},{"x":4133,"y":0.805},{"x":4136,"y":0.884},{"x":4142,"y":0.937},{"x":4147,"y":0.966},{"x":4149,"y":0.846},{"x":4153,"y":0.893},{"x":4159,"y":0.817},{"x":4162,"y":0.872},{"x":4164,"y":0.924},
{"x":4170,"y":0.779},{"x":4175,"y":0.851},{"x":4177,"y":0.905},{"x":4180,"y":0.942},{"x":4187,"y":0.868},{"x":4190,"y":0.831},{"x":4192,"y":0.889},{"x":4198,"y":0.956},{"x":4203,"y":0.812},{"x":4205,"y":0.863},
{"x":4211,"y":0.917},{"x":4214,"y":0.898},{"x":4219,"y":0.841},{"x":4224,"y":0.789},{"x":4226,"y":0.935},{"x":4229,"y":0.876},{"x":4235,"y":0.952},{"x":4240,"y":0.826},{"x":4241,"y":0.909},{"x":4247,"y":0.859},
{"x":4252,"y":0.882},{"x":4254,"y":0.803},{"x":4259,"y":0.944},{"x":4265,"y":0.921},{"x":4266,"y":0.866},{"x":4272,"y":0.835},{"x":4275,"y":0.897},{"x":4279,"y":0.959},{"x":4284,"y":0.813},{"x":4286,"y":0.873},
{"x":4293,"y":0.928},{"x":4298,"y":0.849},{"x":4299,"y":0.782},{"x":4305,"y":0.906},{"x":4308,"y":0.938},{"x":4313,"y":0.864},{"x":4317,"y":0.822},{"x":4320,"y":0.887},{"x":4324,"y":0.953},{"x":4331,"y":0.843},
{"x":4332,"y":0.911},{"x":4337,"y":0.875},{"x":4343,"y":0.798},{"x":4345,"y":0.932},{"x":4349,"y":0.858},{"x":4355,"y":0.965},{"x":4358,"y":0.818},{"x":4362,"y":0.891},{"x":4366,"y":0.925},{"x":4369,"y":0.852},
{"x":4375,"y":0.807},{"x":4379,"y":0.879},{"x":4381,"y":0.946},{"x":4387,"y":0.869},{"x":4392,"y":0.832},{"x":4395,"y":0.903},{"x":4398,"y":0.786},{"x":4404,"y":0.919},{"x":4408,"y":0.861},{"x":4412,"y":0.941},
{"x":4415,"y":0.884},{"x":4421,"y":0.829},{"x":4423,"y":0.957},{"x":4428,"y":0.872},{"x":4433,"y":0.809},{"x":4437,"y":0.896},{"x":4439,"y":0.934},{"x":4446,"y":0.854},{"x":4449,"y":0.923},{"x":4453,"y":0.838},
{"x":4458,"y":0.877},{"x":4460,"y":0.962},{"x":4464,"y":0.815},{"x":4470,"y":0.891},{"x":4473,"y":0.847},{"x":4477,"y":0.914},{"x":4481,"y":0.781},{"x":4486,"y":0.866},{"x":4489,"y":0.949},{"x":4494,"y":0.826},
{"x":4497,"y":0.902},{"x":4503,"y":0.934},{"x":4505,"y":0.887},{"x":4511,"y":0.951},{"x":4516,"y":0.823},{"x":4518,"y":0.861},{"x":4524,"y":0.848},{"x":4527,"y":0.795},{"x":4530,"y":0.912},{"x":4536,"y":0.928},
{"x":4540,"y":0.873},{"x":4543,"y":0.806},{"x":4549,"y":0.784},{"x":4553,"y":0.941},{"x":4556,"y":0.957},{"x":4561,"y":0.899},{"x":4566,"y":0.865},{"x":4568,"y":0.832},{"x":4574,"y":0.917},{"x":4579,"y":0.889},
{"x":4581,"y":0.776},{"x":4586,"y":0.853},{"x":4590,"y":0.962},{"x":4596,"y":0.945},{"x":4598,"y":0.938},{"x":4603,"y":0.812},{"x":4608,"y":0.871},{"x":4611,"y":0.894},{"x":4616,"y":0.829},{"x":4622,"y":0.803},
{"x":4624,"y":0.918},{"x":4628,"y":0.867},{"x":4633,"y":0.859},{"x":4638,"y":0.948},{"x":4641,"y":0.884},{"x":4647,"y":0.791},{"x":4650,"y":0.836},{"x":4655,"y":0.909},{"x":4658,"y":0.925},{"x":4664,"y":0.963},
{"x":4667,"y":0.842},{"x":4671,"y":0.818},{"x":4676,"y":0.876},{"x":4681,"y":0.897},{"x":4683,"y":0.854},{"x":4689,"y":0.932},{"x":4693,"y":0.786},{"x":4697,"y":0.801},{"x":4700,"y":0.944},{"x":4706,"y":0.907},
{"x":4709,"y":0.868},{"x":4714,"y":0.881},{"x":4718,"y":0.827},{"x":4722,"y":0.953},{"x":4727,"y":0.913},{"x":4730,"y":0.838},{"x":4735,"y":0.779},{"x":4740,"y":0.892},{"x":4742,"y":0.946},{"x":4748,"y":0.861},
{"x":4752,"y":0.873},{"x":4755,"y":0.815},{"x":4761,"y":0.927},{"x":4765,"y":0.958},{"x":4767,"y":0.849},{"x":4772,"y":0.804},{"x":4778,"y":0.833},{"x":4780,"y":0.886},{"x":4786,"y":0.921},{"x":4789,"y":0.896},
{"x":4794,"y":0.937},{"x":4799,"y":0.857},{"x":4801,"y":0.822},{"x":4806,"y":0.783},{"x":4811,"y":0.905},{"x":4814,"y":0.944},{"x":4819,"y":0.869},{"x":4823,"y":0.851},{"x":4826,"y":0.915},{"x":4832,"y":0.961},
{"x":4835,"y":0.879},{"x":4839,"y":0.808},{"x":4844,"y":0.843},{"x":4849,"y":0.898},{"x":4851,"y":0.934},{"x":4856,"y":0.865},{"x":4860,"y":0.792},{"x":4863,"y":0.817},{"x":4869,"y":0.954},{"x":4872,"y":0.889},
{"x":4878,"y":0.874},{"x":4880,"y":0.926},{"x":4885,"y":0.836},{"x":4890,"y":0.902},{"x":4893,"y":0.858},{"x":4897,"y":0.951},{"x":4903,"y":0.813},{"x":4906,"y":0.776},{"x":4910,"y":0.882},{"x":4915,"y":0.939},
{"x":4918,"y":0.906},{"x":4923,"y":0.847},{"x":4927,"y":0.871},{"x":4931,"y":0.825},{"x":4934,"y":0.963},{"x":4940,"y":0.918},{"x":4944,"y":0.861},{"x":4946,"y":0.799},{"x":4952,"y":0.893},{"x":4956,"y":0.931},
{"x":4959,"y":0.877},{"x":4964,"y":0.841},{"x":4968,"y":0.912}
]
},
"layer":[
{"data":{"name":"band"},
 "mark":{"type":"circle","size":13,"opacity":1},
 "encoding":{
  "x":{"field":"x","type":"quantitative","scale":{"domain":[-250,5217],"nice":false,"zero":false},"axis":{"title":"Number of samples","values":[0,1000,2000,3000,4000,5000],"format":"d"}},
  "y":{"field":"y","type":"quantitative","scale":{"domain":[0.177,1.02],"nice":false,"zero":false},"axis":{"title":"Poisoning Score","values":[0.25,0.5,0.75,1.0],"format":".2f"}},
  "color":{"datum":"Clean Suspected","type":"nominal","scale":{"domain":["Poison","Clean Suspected"],"range":["#ff0000","#008000"]},
   "legend":{"title":null,"orient":"none","legendX":23.5,"legendY":-46.2,"symbolSize":20,"labelOffset":14.5,"rowPadding":9.6,"labelFontSize":12.4,"labelFont":"DejaVu Serif","labelColor":"black","padding":0,
    "encode":{"symbols":{"update":{"size":{"signal":"datum.value === 'Poison' ? 20 : 4"}}}}}}
 }},
{"data":{"name":"sparse"},
 "mark":{"type":"circle","size":6,"opacity":1},
 "encoding":{
  "x":{"field":"x","type":"quantitative","axis":{"title":"Number of samples"}},
  "y":{"field":"y","type":"quantitative","axis":{"title":"Poisoning Score"}},
  "color":{"datum":"Clean Suspected","type":"nominal"}
 }},
{"data":{"name":"poison"},
 "mark":{"type":"circle","size":20,"opacity":1},
 "encoding":{
  "x":{"field":"x","type":"quantitative","axis":{"title":"Number of samples"}},
  "y":{"field":"y","type":"quantitative","axis":{"title":"Poisoning Score"}},
  "color":{"datum":"Poison","type":"nominal"}
 }},
{"data":{"name":"thresholds"},
 "mark":{"type":"rule","strokeWidth":2,"strokeDash":[7.4,3.2]},
 "encoding":{
  "y":{"field":"y","type":"quantitative","axis":{"title":"Poisoning Score"}},
  "stroke":{"field":"t","type":"nominal","scale":{"domain":["Threshold 1 (Kmeans)","Threshold 2 (Gaussian)"],"range":["#0000ff","#ffa500"]},
   "legend":{"title":null,"orient":"none","legendX":190.3,"legendY":-46.2,"symbolType":"M-3,0H3","symbolSize":70,"symbolStrokeWidth":2,"symbolDash":[6.5,2.7],"labelOffset":18.5,"rowPadding":9.6,"labelFontSize":12.4,"labelFont":"DejaVu Serif","labelColor":"black","padding":0}}
 }}
],
"config":{
 "font":"DejaVu Serif",
 "view":{"stroke":"black","strokeWidth":1.8},
 "axis":{"grid":false,"domain":false,"ticks":true,"tickColor":"black","tickWidth":1.8,"tickSize":8,"labelFont":"DejaVu Serif","labelFontSize":19,"labelColor":"black","labelPadding":9,"titleFont":"DejaVu Serif","titleFontSize":21.5,"titleFontWeight":"normal","titleColor":"black"},
 "axisX":{"titlePadding":11},
 "axisY":{"titlePadding":13}
}
}
